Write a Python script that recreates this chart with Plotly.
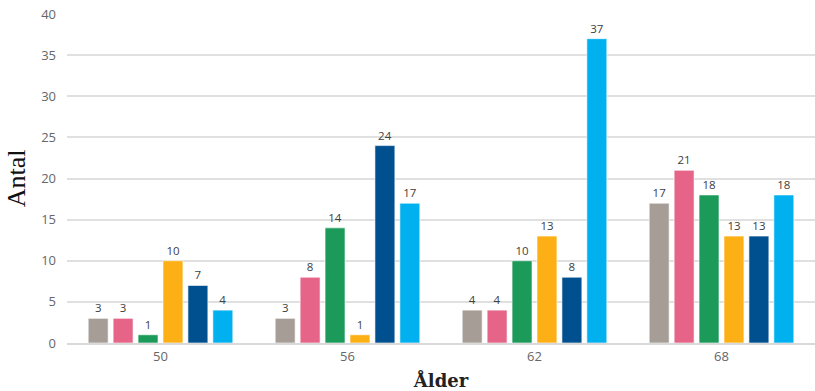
import plotly.graph_objects as go

categories = ["50", "56", "62", "68"]
series_names = ["Serie 1", "Serie 2", "Serie 3", "Serie 4", "Serie 5", "Serie 6"]
values = [
    [3, 3, 4, 17],
    [3, 8, 4, 21],
    [1, 14, 10, 18],
    [10, 1, 13, 13],
    [7, 24, 8, 13],
    [4, 17, 37, 18],
]
colors = ["#A59D96", "#E56488", "#1C9A5A", "#FDB016", "#00508F", "#00B0EF"]
y_ticks = [0, 5, 10, 15, 20, 25, 30, 35, 40]

label_font = dict(family="Open Sans, sans-serif", size=11.5, color="#404040")

fig = go.Figure()
for name, vals, col in zip(series_names, values, colors):
    fig.add_trace(go.Bar(
        x=categories, y=vals, name=name,
        marker=dict(color=col, line=dict(color="rgba(255,255,255,0.6)", width=1)),
        text=[str(v) for v in vals], textposition="outside",
        textfont=label_font, outsidetextfont=label_font,
        cliponaxis=False,
    ))

fig.update_layout(
    width=815, height=391,
    margin=dict(l=67, r=0, t=14, b=48),
    paper_bgcolor="white", plot_bgcolor="white",
    barmode="group", bargap=0.2, bargroupgap=0.2,
    showlegend=False,
    xaxis=dict(
        type="category",
        tickfont=dict(family="Open Sans, sans-serif", size=13, color="#666666"),
        showline=True, linecolor="#d9d9d9", linewidth=2,
        ticks="", showgrid=False,
        title=dict(text="<b>Ålder</b>", font=dict(family="DejaVu Serif, serif", size=18, color="#222"), standoff=12),
    ),
    yaxis=dict(
        range=[0, 40], tickvals=y_ticks,
        tickfont=dict(family="Open Sans, sans-serif", size=13, color="#666666"),
        showgrid=True, gridcolor="#e0e0e0", gridwidth=2,
        zeroline=False, showline=False, ticks="", ticklabelstandoff=10,
        title=dict(text="Antal", font=dict(family="Liberation Serif, serif", size=26, color="#111"), standoff=8),
    ),
)

fig.write_html("out.html")
